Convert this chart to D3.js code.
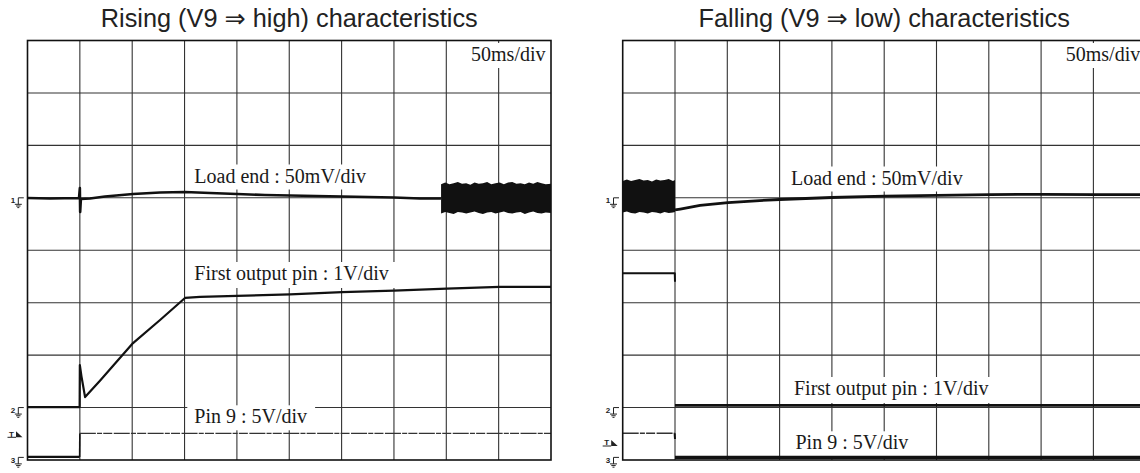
<!DOCTYPE html>
<html><head><meta charset="utf-8">
<script src="https://cdn.jsdelivr.net/npm/d3@7"></script>
<style>body{margin:0;background:#fff}svg{display:block}</style>
</head><body>
<svg id="chart" width="1140" height="473"></svg>
<script>
// ---------------- data ----------------
const panelTitles = ["Rising (V9 \u21D2 high) characteristics", "Falling (V9 \u21D2 low) characteristics"];
const timeGrid = [0, 50, 100, 150, 200, 250, 300, 350, 400, 450, 500];   // ms, 50 ms/div
const divGrid = [0, 1, 2, 3, 4, 5, 6, 7, 8];                              // vertical divisions
const timebaseLabel = "50ms/div";
const channelLabels = ["Load end : 50mV/div", "First output pin : 1V/div", "Pin 9 : 5V/div"];
const channelIds = ["1", "2", "3"];
const channelPerDiv = [50, 1, 5];        // mV/div, V/div, V/div
const channelGroundDiv = [5, 1, 0.05];   // ground marker level (div from bottom)
const triggerLevelV = [2.2, 1.37];       // on channel 3, rising / falling

// Rising: channel 1 (load end, mV)
const riseLoadT = [0, 21.5, 49.2, 50, 50.3, 51, 59.7, 74, 100.8, 126.6, 150.4, 174.3, 200, 226.8, 250.7, 300.4, 350, 374.8, 394.9];
const riseLoadV = [-0.2, -0.7, -0.2, 9.3, -13.5, -1.1, -0.7, 1.2, 3.6, 5.1, 5.5, 4.6, 3.6, 2.7, 2.2, 1.2, 0.3, -0.7, -0.7];
// Rising: channel 1 ripple band (mV envelope)
const riseBandT = [395, 399, 403, 407, 411, 415, 419, 423, 427, 431, 435, 439, 443, 447, 451, 455, 459, 463, 467, 471, 475, 479, 483, 487, 491, 495, 500];
const riseBandHi = [13, 14.5, 13, 14, 15, 13.5, 14, 12.5, 14.5, 13.5, 14, 15, 13, 14, 14.5, 13, 14.5, 15, 13.5, 14, 13, 14.5, 13.5, 15, 14, 13, 13.5];
const riseBandLo = [-15, -13.5, -14.5, -15.5, -13.5, -14, -15, -14, -13, -14.5, -15.5, -14, -13.5, -15, -14, -13, -14.5, -15, -14, -13.5, -15.5, -14, -13, -14.5, -15, -14, -14.5];
// Rising: channel 2 (first output pin, V)
const riseOutT = [0, 49.8, 50, 51.5, 55, 69.2, 100.8, 126.6, 150.4, 164.8, 200, 250.7, 300.4, 350, 400.5, 451, 500];
const riseOutV = [0.01, 0.01, 0.81, 0.6, 0.2, 0.51, 1.23, 1.67, 2.09, 2.11, 2.13, 2.16, 2.2, 2.23, 2.27, 2.3, 2.3];
// Rising: channel 3 (pin 9, V)
const risePinT = [0, 49.8, 50, 500];
const risePinV = [0.04, 0.04, 2.28, 2.28];

// Falling: channel 1 ripple band before trigger (mV envelope)
const fallBandT = [0, 4, 8, 12, 16, 20, 24, 28, 32, 36, 40, 44, 48, 50];
const fallBandHi = [16, 17.5, 16, 17, 18, 16.5, 17, 15.5, 17.5, 16.5, 17, 18, 16, 17];
const fallBandLo = [-14, -13, -14.5, -15, -13.5, -14, -15, -13.5, -14, -15, -13.5, -14.5, -14, -13.5];
// Falling: channel 1 after trigger (mV)
const fallLoadT = [50, 55, 74, 100.7, 131, 150, 200, 250.8, 300.5, 351, 401, 451.6, 500];
const fallLoadV = [-11.6, -10.7, -7.3, -4.5, -2.6, -1.6, 0.3, 1.7, 2.4, 3.1, 3.3, 3.1, 3.1];
// Falling: channel 2 (V), before and after the edge
const fallOutPreT = [0, 49.8, 50];
const fallOutPreV = [2.56, 2.56, 2.4];
const fallOutPostT = [50, 500];
const fallOutPostV = [0.04, 0.04];
// Falling: channel 3 (V), before and after the edge
const fallPinPreT = [0, 49.7, 50];
const fallPinPreV = [2.3, 2.3, 1.75];
const fallPinPostT = [50, 500];
const fallPinPostV = [0, 0];

// ---------------- layout ----------------
const svg = d3.select("#chart");
const TOP = 40.5, BOTTOM = 460;
const panels = [
  { x0: 27.5, x1: 551, labelX: [194.3, 194.3, 194.3], labelY: [182.5, 280, 423.3] },
  { x0: 622.7, x1: 1145.7, labelX: [791, 794, 795.5], labelY: [184.5, 395, 449.3] }
];
const y = d3.scaleLinear().domain([0, 8]).range([BOTTOM, TOP]);
const zip = (a, b) => a.map((t, i) => [t, b[i]]);

function drawPanel(p, pi) {
  const g = svg.append("g");
  const x = d3.scaleLinear().domain([0, 500]).range([p.x0, p.x1]);
  const cy = (ch, v) => y(channelGroundDiv[ch] + v / channelPerDiv[ch]);

  // title
  g.append("text").attr("x", (p.x0 + p.x1) / 2).attr("y", 27)
    .attr("text-anchor", "middle")
    .attr("font-family", "'Liberation Sans', Arial, 'DejaVu Sans', sans-serif")
    .attr("font-size", 25.3).attr("fill", "#222").text(panelTitles[pi]);

  // grid
  g.append("g").selectAll("line").data(timeGrid.slice(1, -1)).join("line")
    .attr("x1", d => x(d)).attr("x2", d => x(d)).attr("y1", TOP).attr("y2", BOTTOM)
    .attr("stroke", "#333").attr("stroke-width", 1.1);
  g.append("g").selectAll("line").data(divGrid.slice(1, -1)).join("line")
    .attr("y1", d => y(d)).attr("y2", d => y(d)).attr("x1", p.x0).attr("x2", p.x1)
    .attr("stroke", "#333").attr("stroke-width", 1.1);

  const serif = "'Liberation Serif', 'Times New Roman', serif";
  function label(txt, tx, ty, anchor) {
    const box = g.append("rect").attr("fill", "#fff");
    const t = g.append("text").attr("x", tx).attr("y", ty).attr("text-anchor", anchor || "start")
      .attr("font-family", serif).attr("font-size", 20).attr("fill", "#1a1a1a").text(txt);
    const b = t.node().getBBox();
    box.attr("x", b.x - 7).attr("y", b.y).attr("width", b.width + 15).attr("height", b.height + 3);
  }
  label(timebaseLabel, p.x1 - 5.5, 61, "end");
  channelLabels.forEach((c, i) => label(c, p.labelX[i], p.labelY[i]));

  // traces
  const line = (ch) => d3.line().x(d => x(d[0])).y(d => cy(ch, d[1]));
  const band = (ch) => d3.area().x(d => x(d[0])).y0(d => cy(ch, d[2])).y1(d => cy(ch, d[1]));
  const stroke = (path, w, dash, col) => path.attr("fill", "none").attr("stroke", col || "#111")
    .attr("stroke-width", w).attr("stroke-linejoin", "round").attr("stroke-dasharray", dash || null);
  const pinDash = "16 1.2 5 1.2 9 1.5";

  if (pi === 0) {
    stroke(g.append("path").attr("d", line(0)(zip(riseLoadT, riseLoadV))), 2.6);
    g.append("path").attr("d", band(0)(riseBandT.map((t, i) => [t, riseBandHi[i], riseBandLo[i]])))
      .attr("fill", "#111");
    stroke(g.append("path").attr("d", line(1)(zip(riseOutT, riseOutV))), 2.2);
    stroke(g.append("path").attr("d", line(2)(zip(risePinT.slice(0, 2), risePinV.slice(0, 2)))), 2.2);
    stroke(g.append("path").attr("d", line(2)(zip(risePinT.slice(1, 3), risePinV.slice(1, 3)))), 1.6);
    stroke(g.append("path").attr("d", line(2)(zip(risePinT.slice(2), risePinV.slice(2)))), 1.3, pinDash, "#333");
  } else {
    g.append("path").attr("d", band(0)(fallBandT.map((t, i) => [t, fallBandHi[i], fallBandLo[i]])))
      .attr("fill", "#111");
    stroke(g.append("path").attr("d", line(0)(zip(fallLoadT, fallLoadV))), 2.8);
    stroke(g.append("path").attr("d", line(1)(zip(fallOutPreT, fallOutPreV))), 2.0);
    stroke(g.append("path").attr("d", line(1)(zip(fallOutPostT, fallOutPostV))), 2.8);
    stroke(g.append("path").attr("d", line(2)(zip(fallPinPreT.slice(0, 2), fallPinPreV.slice(0, 2)))), 1.3, pinDash, "#333");
    stroke(g.append("path").attr("d", line(2)(zip(fallPinPreT.slice(1), fallPinPreV.slice(1)))), 2.0);
    stroke(g.append("path").attr("d", line(2)(zip(fallPinPostT, fallPinPostV))), 3.2);
  }

  // border
  g.append("rect").attr("x", p.x0).attr("y", TOP).attr("width", p.x1 - p.x0).attr("height", BOTTOM - TOP)
    .attr("fill", "none").attr("stroke", "#111").attr("stroke-width", 1.6);

  // channel ground markers
  const sx = p.x0 - 9.2;
  channelIds.forEach((id, ch) => {
    const my = y(channelGroundDiv[ch]);
    g.append("text").attr("x", sx - 3.2).attr("y", my + 5.5).attr("text-anchor", "end")
      .attr("font-family", "'Liberation Sans', Arial, sans-serif").attr("font-weight", "bold")
      .attr("font-size", 8).attr("fill", "#222").text(id);
    g.append("path")
      .attr("d", `M${sx},${my} H${sx + 5.5} M${sx},${my} V${my + 6.5} M${sx - 3.5},${my + 6.5} H${sx + 3.5} M${sx - 2.2},${my + 8.2} H${sx + 2.2} M${sx - 1},${my + 9.8} H${sx + 1}`)
      .attr("stroke", "#222").attr("stroke-width", 1).attr("fill", "none");
  });
  // trigger marker
  const ty = cy(2, triggerLevelV[pi]);
  g.append("text").attr("x", p.x0 - 16).attr("y", ty + 2.3).attr("text-anchor", "middle")
    .attr("font-family", "'Liberation Sans', Arial, sans-serif").attr("font-weight", "bold")
    .attr("font-size", 8).attr("fill", "#222").text("T");
  g.append("path").attr("d", `M${p.x0 - 20},${ty + 3} H${p.x0 - 11.5}`).attr("stroke", "#222").attr("stroke-width", 1);
  g.append("path").attr("d", `M${p.x0 - 11.5},${ty - 3} L${p.x0 - 5},${ty + 3} L${p.x0 - 11.5},${ty + 3} Z`).attr("fill", "#222");
}
panels.forEach(drawPanel);
</script>
</body></html>
